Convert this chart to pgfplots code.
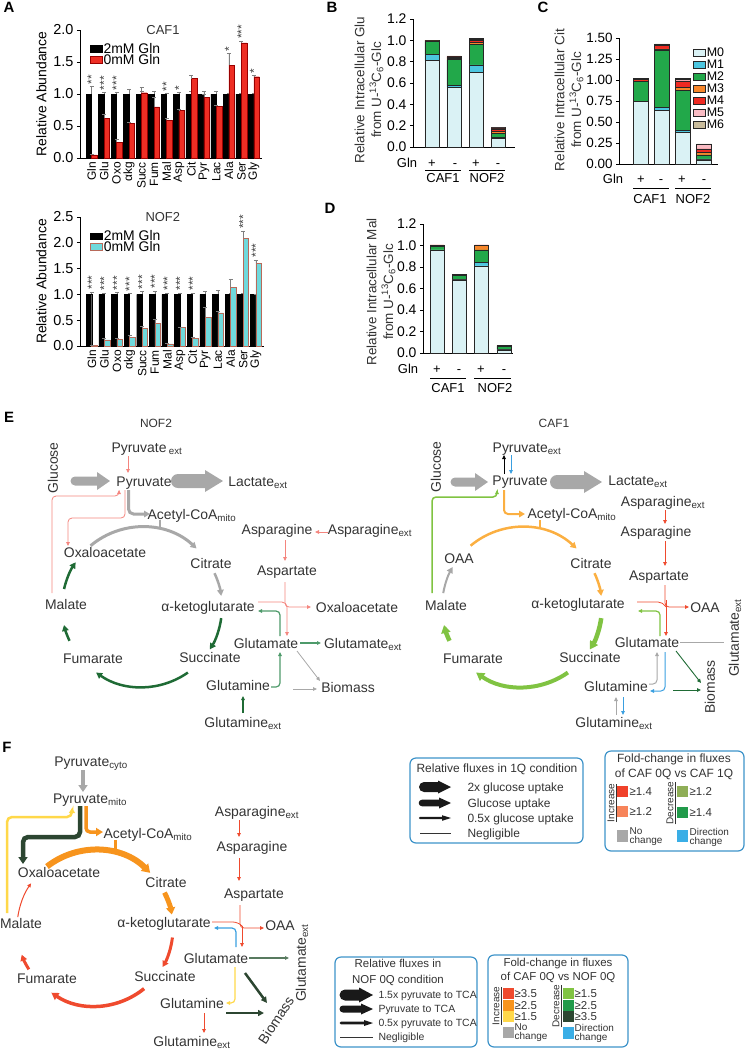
\documentclass[border=0pt]{standalone}
\usepackage{fontspec}
\setmainfont{Liberation Sans}
\usepackage{pgfplots}
\pgfplotsset{compat=1.18}
\usepackage{pgfplotstable}
\usetikzlibrary{arrows.meta}
\newcommand\fsz[2]{\fontsize{#1}{#2}\selectfont}
\newcommand\sub[1]{\textsubscript{#1}}
\definecolor{txt}{HTML}{333333}
\definecolor{cafred}{HTML}{EE2E24}
\definecolor{nofcy}{HTML}{6FD9DC}
\definecolor{nofedge}{HTML}{B86A5A}
\definecolor{mzero}{HTML}{DAF2F5}
\definecolor{mone}{HTML}{4CC6E0}
\definecolor{mtwo}{HTML}{22A84A}
\definecolor{mthree}{HTML}{F7862A}
\definecolor{mfour}{HTML}{EE2A22}
\definecolor{mfive}{HTML}{F9BCC4}
\definecolor{msix}{HTML}{C9BC9C}
\definecolor{gar}{HTML}{A8A8A8}
\definecolor{salm}{HTML}{F4857E}
\definecolor{dgreen}{HTML}{1F6B35}
\definecolor{mgreen}{HTML}{4E9A6A}
\definecolor{lorange}{HTML}{FBAF41}
\definecolor{lgreen}{HTML}{80C342}
\definecolor{fred}{HTML}{EF4A2E}
\definecolor{fblue}{HTML}{3A9FE0}
\definecolor{forange}{HTML}{F7941D}
\definecolor{fyellow}{HTML}{FFD84A}
\definecolor{fdkgreen}{HTML}{2C4631}
\definecolor{fgreen}{HTML}{219A4A}
\definecolor{fslate}{HTML}{587A5F}
\definecolor{olive}{HTML}{8FAE57}
\definecolor{salm2}{HTML}{F7845A}
\definecolor{boxred}{HTML}{F0412A}
\definecolor{boxblue}{HTML}{3D93C9}
\definecolor{sqblue}{HTML}{3AAEE6}

\newcommand\blockR[7]{%
 \fill[#7] (#1,{-#3+#4}) -- ({#2-#6},{-#3+#4}) -- ({#2-#6},{-#3+#5}) -- (#2,{-#3}) -- ({#2-#6},{-#3-#5}) -- ({#2-#6},{-#3-#4}) -- (#1,{-#3-#4}) arc[start angle=-90, end angle=-270, radius=#4] -- cycle;}
\newcommand\carc[6]{\draw[#6] ({#1+#3*cos(#4)},{-#2+#3*sin(#4)}) arc[start angle=#4, end angle=#5, radius=#3];}

\pgfplotstableread{
x k ke r re
0 1 0.12 0.05 0.01
1 1 0.03 0.62 0.07
2 1 0.03 0.25 0.05
3 1 0.08 0.54 0.02
4 1 0.05 1.02 0.08
5 1 0.05 0.80 0.15
6 1 0.02 0.59 0.03
7 1 0.03 0.74 0.03
8 1 0.05 1.24 0.05
9 1 0.04 0.95 0.05
10 1 0.05 0.81 0.02
11 1 0.02 1.45 0.18
12 1 0.02 1.80 0.03
13 1 0.01 1.27 0.02
}\cafA
\pgfplotstableread{
x y s
0 1.14 **
1 1.05 ***
2 1.05 ***
6 1.03 **
7 1.05 *
11 1.65 *
12 1.85 ***
13 1.31 *
}\cafS
\pgfplotstableread{
x k ke c ce
0 1 0.05 0.01 0.005
1 1 0.03 0.12 0.03
2 1 0.04 0.13 0.02
3 1 0.02 0.17 0.04
4 1 0.06 0.34 0.04
5 1 0.07 0.44 0.07
6 1 0.03 0.04 0.01
7 1 0.03 0.36 0.01
8 1 0.03 0.15 0.03
9 1 0.06 0.56 0.20
10 1 0.08 0.64 0.03
11 1 0.03 1.14 0.16
12 1 0.02 2.09 0.14
13 1 0.00 1.60 0.06
}\nofA
\pgfplotstableread{
x y s
0 1.08 ***
1 1.06 ***
2 1.07 ***
3 1.05 ***
4 1.09 ***
5 1.10 ***
6 1.06 ***
7 1.06 ***
8 1.06 ***
12 2.26 ***
13 1.70 ***
}\nofS
\pgfplotstableread{
x m0 m1 m2 m3 m4 m5 m6
0 0.81 0.06 0.12 0.005 0.005 0.0 0.0
1 0.56 0.02 0.24 0.01 0.015 0.005 0.005
2 0.70 0.07 0.19 0.02 0.02 0.01 0.005
3 0.08 0.01 0.04 0.015 0.025 0.01 0.005
}\Bd
\pgfplotstableread{
x m0 m1 m2 m3 m4 m5 m6
0 0.75 0.0 0.23 0.01 0.02 0.005 0.0
1 0.64 0.03 0.69 0.01 0.04 0.01 0.01
2 0.38 0.02 0.48 0.03 0.08 0.02 0.01
3 0.05 0.01 0.05 0.03 0.04 0.05 0.01
}\Cd
\pgfplotstableread{
x m0 m1 m2 m3 m4 m5 m6
0 0.96 0.0 0.03 0.01 0.005 0 0
1 0.68 0.005 0.04 0.005 0 0 0
2 0.81 0.03 0.12 0.04 0.005 0 0
3 0.03 0.005 0.03 0.005 0 0 0
}\Dd

\pgfplotsset{
 abar/.style={scale only axis, anchor=south west, clip=false,
  axis x line*=bottom, axis y line*=left, axis line style={line width=0.8bp, black},
  tick align=outside, major tick length=3bp, tick style={black, line width=0.8bp},
  xtick={0,...,13}, xticklabels={Gln,Glu,Oxo,αkg,Succ,Fum,Mal,Asp,Cit,Pyr,Lac,Ala,Ser,Gly},
  x tick style={draw=none}, xticklabel style={rotate=90, anchor=east, font=\fsz{12}{12}, inner sep=1bp},
  yticklabel style={font=\fsz{14.5}{14.5}, /pgf/number format/.cd, fixed, fixed zerofill, precision=1, assume math mode=true},
  ylabel={Relative Abundance}, ylabel style={font=\fsz{14}{14}},
  legend style={at={(0.055,0.905)}, anchor=north west, draw=none, fill=none, font=\fsz{14}{14}, row sep=-3bp, inner sep=0pt, nodes={inner sep=1bp}},
  legend image code/.code={\draw[#1] (0bp,-3bp) rectangle (12bp,3.5bp);}},
 stars/.style={draw=none, mark=none, nodes near coords, point meta=explicit symbolic, every node near coord/.append style={rotate=90, anchor=west, font=\fsz{12}{12}, inner sep=0.5bp, text=black!75}},
 stk/.style={scale only axis, anchor=south west, clip=false, ybar stacked, bar width=14bp, ymin=0,
  axis x line*=bottom, axis y line*=left, axis line style={line width=0.8bp, black},
  tick align=outside, major tick length=3bp, tick style={black, line width=0.8bp},
  xtick={0,1,2,3}, xticklabels={}, x tick style={draw=none},
  every axis plot/.append style={draw=black!85, line width=0.5bp}},
}
\tikzset{lab/.style={font=\fsz{14}{16}, text=txt, inner sep=0pt, anchor=base},
 ta/.style={-{Triangle[length=4bp,width=3.6bp]}},
 tb/.style={-{Triangle[length=6bp,width=6.5bp]}},
 tc/.style={-{Triangle[length=8bp,width=9bp]}}}

\begin{document}
\begin{tikzpicture}[x=1bp,y=1bp,font=\fsz{14}{16}]
\useasboundingbox (0,0) rectangle (745,-1050);
\coordinate (pA1) at (80,-158);
\coordinate (pA2) at (80,-346);
\coordinate (pB) at (413,-147);
\coordinate (pC) at (619,-164);
\coordinate (pD) at (423,-353);

% panel letters
\node[font=\bfseries\fsz{15}{16}, anchor=base] at (9,-12) {A};
\node[font=\bfseries\fsz{15}{16}, anchor=base] at (332,-12) {B};
\node[font=\bfseries\fsz{15}{16}, anchor=base] at (543,-12) {C};
\node[font=\bfseries\fsz{15}{16}, anchor=base] at (330,-213) {D};
\node[font=\bfseries\fsz{15}{16}, anchor=base] at (9,-422) {E};
\node[font=\bfseries\fsz{15}{16}, anchor=base] at (7,-752) {F};

% ---------- A: CAF1
\begin{axis}[abar, at={(pA1)}, width=182bp, height=128bp,
  xmin=-0.93, xmax=13.65, ymin=0, ymax=2, ytick={0,0.5,1,1.5,2}]
\addplot[ybar, bar width=5.5bp, bar shift=-2.75bp, fill=black, draw=black,
  error bars/.cd, y dir=plus, y explicit, error bar style={gray, line width=0.5bp}]
  table[x=x, y=k, y error=ke]{\cafA};
\addplot[ybar, bar width=5.5bp, bar shift=2.75bp, fill=cafred, draw=red!60!black, line width=0.4bp,
  error bars/.cd, y dir=plus, y explicit, error bar style={gray, line width=0.5bp}]
  table[x=x, y=r, y error=re]{\cafA};
\addplot[stars] table[x=x, y=y, meta=s]{\cafS};
\legend{2mM Gln, 0mM Gln}
\node[font=\fsz{13}{13}, text=txt] at (rel axis cs:0.456,1) {CAF1};
\end{axis}

% ---------- A: NOF2
\begin{axis}[abar, at={(pA2)}, width=184bp, height=129bp,
  xmin=-0.93, xmax=13.65, ymin=0, ymax=2.5, ytick={0,0.5,1,1.5,2,2.5}]
\addplot[ybar, bar width=5.5bp, bar shift=-2.75bp, fill=black, draw=black,
  error bars/.cd, y dir=plus, y explicit, error bar style={gray, line width=0.5bp}]
  table[x=x, y=k, y error=ke]{\nofA};
\addplot[ybar, bar width=5.5bp, bar shift=2.75bp, fill=nofcy, draw=nofedge, line width=0.5bp,
  error bars/.cd, y dir=plus, y explicit, error bar style={gray, line width=0.5bp}]
  table[x=x, y=c, y error=ce]{\nofA};
\addplot[stars] table[x=x, y=y, meta=s]{\nofS};
\legend{2mM Gln, 0mM Gln}
\node[font=\fsz{13}{13}, text=txt] at (rel axis cs:0.45,1) {NOF2};
\end{axis}

% ---------- B
\begin{axis}[stk, at={(pB)}, width=102bp, height=128bp,
  xmin=-0.86, xmax=3.77, ymax=1.2, ytick={0,0.2,...,1.2},
  yticklabel style={font=\fsz{14}{14}, /pgf/number format/.cd, fixed, fixed zerofill, precision=1, assume math mode=true}]
\addplot[fill=mzero] table[x=x,y=m0]{\Bd};
\addplot[fill=mone] table[x=x,y=m1]{\Bd};
\addplot[fill=mtwo] table[x=x,y=m2]{\Bd};
\addplot[fill=mthree] table[x=x,y=m3]{\Bd};
\addplot[fill=mfour] table[x=x,y=m4]{\Bd};
\addplot[fill=mfive] table[x=x,y=m5]{\Bd};
\addplot[fill=msix] table[x=x,y=m6]{\Bd};
\end{axis}
\node[rotate=90, align=center, font=\fsz{13.5}{17}, text=txt] at (369,-90) {Relative Intracellular Glu\\from U-\textsuperscript{13}C\textsubscript{6}-Glc};
\begin{scope}[font=\fsz{13}{13}]
\node[anchor=base] at (407,-167) {Gln};
\node[anchor=base] at (432,-167) {+};\node[anchor=base] at (455,-167) {-};
\node[anchor=base] at (476,-167) {+};\node[anchor=base] at (498,-167) {-};
\draw[line width=0.7bp] (425,-170) -- (461,-170); \draw[line width=0.7bp] (469,-170) -- (505,-170);
\node[anchor=base] at (443,-182) {CAF1}; \node[anchor=base] at (487,-182) {NOF2};
\end{scope}

% ---------- C
\begin{axis}[stk, at={(pC)}, width=99bp, height=126bp, bar width=15bp,
  xmin=-1.05, xmax=3.66, ymax=1.5, ytick={0,0.25,...,1.5},
  yticklabel style={font=\fsz{13.5}{13.5}, /pgf/number format/.cd, fixed, fixed zerofill, precision=2, assume math mode=true},
  legend style={at={(0.75,0.93)}, anchor=north west, draw=none, fill=none, font=\fsz{12.5}{12.5}, row sep=0.3bp, inner sep=0pt, nodes={inner sep=0.8bp}},
  legend image code/.code={\draw[#1] (0bp,-3.5bp) rectangle (12bp,3.5bp);}]
\addplot[fill=mzero] table[x=x,y=m0]{\Cd};
\addplot[fill=mone] table[x=x,y=m1]{\Cd};
\addplot[fill=mtwo] table[x=x,y=m2]{\Cd};
\addplot[fill=mthree] table[x=x,y=m3]{\Cd};
\addplot[fill=mfour] table[x=x,y=m4]{\Cd};
\addplot[fill=mfive] table[x=x,y=m5]{\Cd};
\addplot[fill=msix] table[x=x,y=m6]{\Cd};
\legend{M0,M1,M2,M3,M4,M5,M6}
\end{axis}
\node[rotate=90, align=center, font=\fsz{13.5}{17}, text=txt] at (569,-100) {Relative Intracellular Cit\\from U-\textsuperscript{13}C\textsubscript{6}-Glc};
\begin{scope}[font=\fsz{13}{13}]
\node[anchor=base] at (613,-183) {Gln};
\node[anchor=base] at (641,-183) {+};\node[anchor=base] at (661,-183) {-};
\node[anchor=base] at (682,-183) {+};\node[anchor=base] at (704,-183) {-};
\draw[line width=0.7bp] (633,-188) -- (669,-188); \draw[line width=0.7bp] (675,-188) -- (711,-188);
\node[anchor=base] at (650,-203) {CAF1}; \node[anchor=base] at (693,-203) {NOF2};
\end{scope}

% ---------- D
\begin{axis}[stk, at={(pD)}, width=90bp, height=129bp,
  xmin=-0.63, xmax=3.41, ymax=1.2, ytick={0,0.2,...,1.2},
  yticklabel style={font=\fsz{14}{14}, /pgf/number format/.cd, fixed, fixed zerofill, precision=1, assume math mode=true}]
\addplot[fill=mzero] table[x=x,y=m0]{\Dd};
\addplot[fill=mone] table[x=x,y=m1]{\Dd};
\addplot[fill=mtwo] table[x=x,y=m2]{\Dd};
\addplot[fill=mthree] table[x=x,y=m3]{\Dd};
\addplot[fill=mfour] table[x=x,y=m4]{\Dd};
\addplot[fill=mfive] table[x=x,y=m5]{\Dd};
\addplot[fill=msix] table[x=x,y=m6]{\Dd};
\end{axis}
\node[rotate=90, align=center, font=\fsz{13.5}{17}, text=txt] at (381,-292) {Relative Intracellular Mal\\from U-\textsuperscript{13}C\textsubscript{6}-Glc};
\begin{scope}[font=\fsz{13}{13}]
\node[anchor=base] at (408,-373) {Gln};
\node[anchor=base] at (437,-373) {+};\node[anchor=base] at (459,-373) {-};
\node[anchor=base] at (481,-373) {+};\node[anchor=base] at (504,-373) {-};
\draw[line width=0.7bp] (430,-378) -- (466,-378); \draw[line width=0.7bp] (474,-378) -- (511,-378);
\node[anchor=base] at (448,-392) {CAF1}; \node[anchor=base] at (495,-392) {NOF2};
\end{scope}

% ================= E left (NOF2)
\node[lab,font=\fsz{12}{12}] at (156,-427) {NOF2};
\node[lab] at (147,-452) {Pyruvate\,\sub{ext}};
\node[lab,rotate=90,anchor=center] at (53,-468) {Glucose};
\node[lab] at (144,-486) {Pyruvate};
\node[lab] at (258,-486) {Lactate\sub{ext}};
\node[lab] at (192,-519) {Acetyl-CoA\sub{mito}};
\node[lab] at (277,-534) {Asparagine};
\node[lab] at (370,-534) {Asparagine\sub{ext}};
\node[lab] at (105,-557) {Oxaloacetate};
\node[lab] at (211,-568) {Citrate};
\node[lab] at (287,-575) {Aspartate};
\node[lab] at (66,-609) {Malate};
\node[lab] at (208,-611) {α-ketoglutarate};
\node[lab] at (357,-612) {Oxaloacetate};
\node[lab] at (93,-663) {Fumarate};
\node[lab] at (210,-662) {Succinate};
\node[lab] at (266,-648) {Glutamate};
\node[lab] at (363,-648) {Glutamate\sub{ext}};
\node[lab] at (238,-690) {Glutamine};
\node[lab] at (243,-727) {Glutamine\sub{ext}};
\node[lab] at (348,-692) {Biomass};

\draw[salm, line width=0.8bp, ta] (128,-456) -- (128,-473);
\blockR{75}{110}{481}{4.5}{9}{13}{gar}
\blockR{178}{223}{481}{7}{11}{18}{gar}
\draw[gar, line width=3bp, rounded corners=5bp, tb] (128.5,-490) -- (128.5,-514) -- (150,-514);
\draw[salm, line width=0.8bp, rounded corners=4bp, ta] (125,-490) -- (125,-518) -- (68,-518) -- (68,-546);
\draw[salm, line width=0.8bp, rounded corners=4bp, ta] (52,-593) -- (52,-496) -- (119,-496) -- (119,-490);
\carc{142}{607}{80}{130}{47}{gar, line width=3bp, tb}
\draw[gar, line width=2bp] (160,-520) -- (160,-529);
\carc{142}{607}{80}{25}{8}{gar, line width=2.5bp, tb}
\carc{142}{607}{80}{-8}{-32}{dgreen, line width=2.5bp, tb}
\carc{142}{607}{80}{-55}{-125}{dgreen, line width=2.5bp, tb}
\carc{142}{607}{80}{-155}{-167}{dgreen, line width=2.5bp, tb}
\carc{142}{607}{80}{167}{146}{dgreen, line width=2.5bp, tb}
\draw[salm, line width=0.8bp, ta] (328,-532) -- (315,-532);
\draw[salm, line width=0.8bp, ta] (285,-540) -- (285,-561);
\draw[salm, line width=0.8bp, rounded corners=4bp, ta] (285,-582) -- (285,-607) -- (311,-607);
\draw[salm, line width=0.8bp, rounded corners=5bp, ta] (258,-602) -- (287,-602) -- (287,-636);
\draw[mgreen, line width=1.2bp, rounded corners=4bp, ta] (280,-636) -- (280,-611) -- (258,-611);
\draw[mgreen, line width=1.2bp, rounded corners=4bp, ta] (271,-687) -- (280,-687) -- (280,-652);
\draw[mgreen, line width=1.2bp, ta] (300,-643) -- (321,-643);
\draw[gar, line width=0.8bp, ta] (297,-651) -- (320,-681);
\draw[gar, line width=0.8bp, ta] (293,-689) -- (317,-689);
\draw[dgreen, line width=1.5bp, ta] (243,-713) -- (243,-696);

% ================= E right (CAF1)
\node[lab,font=\fsz{12}{12}] at (554,-427) {CAF1};
\node[lab] at (527,-452) {Pyruvate\sub{ext}};
\node[lab,rotate=90,anchor=center] at (436,-467) {Glucose};
\node[lab] at (520,-485) {Pyruvate};
\node[lab] at (638,-485) {Lactate\sub{ext}};
\node[lab] at (663,-506) {Asparagine\sub{ext}};
\node[lab] at (572,-518) {Acetyl-CoA\sub{mito}};
\node[lab] at (656,-536) {Asparagine};
\node[lab] at (459,-563) {OAA};
\node[lab] at (591,-568) {Citrate};
\node[lab] at (659,-580) {Aspartate};
\node[lab] at (446,-610) {Malate};
\node[lab] at (578,-608) {α-ketoglutarate};
\node[lab] at (705,-612) {OAA};
\node[lab,rotate=90,anchor=center] at (735,-638) {Glutamate\sub{ext}};
\node[lab] at (473,-663) {Fumarate};
\node[lab] at (590,-662) {Succinate};
\node[lab] at (647,-647) {Glutamate};
\node[lab] at (616,-691) {Glutamine};
\node[lab] at (614,-727) {Glutamine\sub{ext}};
\node[lab,rotate=90,anchor=center] at (710,-687) {Biomass};

\blockR{455}{488}{482}{4.5}{9}{13}{gar}
\blockR{557}{602}{482}{7}{11}{18}{gar}
\draw[black, line width=0.8bp, ta] (504,-474) -- (504,-455);
\draw[fblue, line width=0.8bp, ta] (511,-455) -- (511,-474);
\draw[lorange, line width=2bp, rounded corners=4bp, tb] (504,-490) -- (504,-514) -- (525,-514);
\draw[lgreen, line width=1.5bp, rounded corners=4bp, ta] (432,-593) -- (432,-497) -- (497,-497) -- (497,-490);
\carc{522}{607}{80}{130}{47}{lorange, line width=2.5bp, tb}
\draw[lorange, line width=2bp] (540,-520) -- (540,-529);
\carc{522}{607}{80}{25}{8}{lorange, line width=2.5bp, tb}
\carc{522}{607}{80}{-8}{-32}{lgreen, line width=4.5bp, tc}
\carc{522}{607}{80}{-55}{-125}{lgreen, line width=4bp, tc}
\carc{522}{607}{80}{-155}{-167}{lgreen, line width=4.5bp, tc}
\carc{522}{607}{80}{170}{150}{gar, line width=2bp, tb}
\draw[fred, line width=0.8bp, ta] (665,-510) -- (665,-524);
\draw[fred, line width=0.8bp, ta] (665,-541) -- (665,-566);
\draw[fred, line width=0.8bp, rounded corners=4bp, ta] (665,-585) -- (665,-607) -- (689,-607);
\draw[fred, line width=0.8bp, ta] (666,-600) -- (666,-636);
\draw[fred, line width=0.8bp, rounded corners=5bp] (637,-602) -- (663,-602) -- (666,-607);
\draw[lgreen, line width=1.2bp, rounded corners=4bp, ta] (660,-636) -- (660,-611) -- (638,-611);
\draw[gar, line width=0.8bp] (680,-642) -- (724,-642);
\draw[dgreen, line width=0.9bp, ta] (676,-651) -- (701,-683);
\draw[dgreen, line width=0.9bp, ta] (673,-690) -- (701,-690);
\draw[gar, line width=1bp, rounded corners=4bp, ta] (649,-684) -- (657,-684) -- (657,-652);
\draw[fblue, line width=1bp, rounded corners=4bp, ta] (665,-652) -- (665,-691) -- (650,-691);
\draw[gar, line width=1bp, ta] (616,-715) -- (616,-697);
\draw[fblue, line width=1bp, ta] (623,-697) -- (623,-715);

% ---- E legends
\draw[boxblue, line width=1.2bp, rounded corners=6bp] (410,-758) rectangle (583,-843);
\node[anchor=base, font=\fsz{12}{12}, text=txt] at (497,-772) {Relative fluxes in 1Q condition};
\blockR{424}{451}{787}{5}{6.5}{13}{black!90}
\blockR{422}{451}{803}{3.3}{5.5}{12}{black!90}
\blockR{420}{451}{818}{1.2}{2.8}{9}{black!90}
\draw[black!80, line width=0.8bp] (420,-833) -- (451,-833);
\begin{scope}[every node/.style={anchor=base west, font=\fsz{12}{12}, text=txt}]
\node at (464,-791.5) {2x glucose uptake};
\node at (464,-807.5) {Glucose uptake};
\node at (464,-822.5) {0.5x glucose uptake};
\node at (464,-837.5) {Negligible};
\end{scope}
\draw[boxblue, line width=1.2bp, rounded corners=6bp] (605,-751) rectangle (744,-851);
\node[anchor=base, font=\fsz{12}{12}, text=txt] at (674,-762) {Fold-change in fluxes};
\node[anchor=base, font=\fsz{12}{12}, text=txt] at (674,-777) {of CAF 0Q vs CAF 1Q};
\node[rotate=90, font=\fsz{10}{10}, text=txt, inner sep=0pt] at (612,-803) {\underline{Increase}};
\node[rotate=90, font=\fsz{10}{10}, text=txt, inner sep=0pt] at (671,-803) {\underline{Decrease}};
\fill[boxred] (617,-786) rectangle (628,-797);
\fill[salm2] (617,-806) rectangle (628,-817);
\fill[olive] (677,-786) rectangle (688,-797);
\fill[fgreen] (677,-807) rectangle (688,-818);
\fill[gar] (617,-830) rectangle (628,-842);
\fill[sqblue] (677,-830) rectangle (688,-842);
\begin{scope}[every node/.style={anchor=west, font=\fsz{11.5}{11.5}, text=txt, inner sep=0.5bp}]
\node at (629,-791.5) {≥1.4};
\node at (629,-811.5) {≥1.2};
\node at (689,-791.5) {≥1.2};
\node at (689,-812.5) {≥1.4};
\end{scope}
\node[anchor=west, align=left, font=\fsz{10}{9}, text=txt, inner sep=0.5bp] at (629,-837) {No\\change};
\node[anchor=west, align=left, font=\fsz{10}{9}, text=txt, inner sep=0.5bp] at (689,-837) {Direction\\change};

% ================= F
\node[lab] at (91,-766) {Pyruvate\sub{cyto}};
\node[lab] at (90,-803) {Pyruvate\sub{mito}};
\node[lab] at (148,-838) {Acetyl-CoA\sub{mito}};
\node[lab] at (257,-816) {Asparagine\sub{ext}};
\node[lab] at (252,-851) {Asparagine};
\node[lab] at (59,-877) {Oxaloacetate};
\node[lab] at (166,-887) {Citrate};
\node[lab] at (254,-898) {Aspartate};
\node[lab] at (21,-928) {Malate};
\node[lab] at (164,-927) {α-ketoglutarate};
\node[lab] at (280,-930) {OAA};
\node[lab] at (216,-963) {Glutamate};
\node[lab,rotate=90,anchor=center] at (302,-963) {Glutamate\sub{ext}};
\node[lab] at (47,-983) {Fumarate};
\node[lab] at (165,-981) {Succinate};
\node[lab] at (192,-1008) {Glutamine};
\node[lab,rotate=57,anchor=center] at (276,-1020) {Biomass};
\node[lab] at (192,-1046) {Glutamine\sub{ext}};

\draw[gar, line width=4bp, -{Triangle[length=7bp,width=9bp]}] (83,-770) -- (83,-792);
\draw[fyellow, line width=2.5bp, rounded corners=5bp, -{Triangle[length=5bp,width=6bp]}] (7,-913) -- (7,-817) -- (72,-817) -- (72,-808);
\draw[fdkgreen, line width=4.5bp, rounded corners=5bp, -{Triangle[length=7bp,width=9bp]}] (80,-806) -- (80,-837) -- (23,-837) -- (23,-864);
\draw[forange, line width=3.5bp, rounded corners=4bp, -{Triangle[length=7bp,width=8bp]}] (86,-806) -- (86,-832) -- (103,-832);
\carc{95}{928}{78}{128}{45}{forange, line width=6bp, -{Triangle[length=8bp,width=10bp]}}
\draw[forange, line width=3bp] (115,-840) -- (115,-851);
\carc{95}{928}{78}{27}{10}{forange, line width=5bp, -{Triangle[length=7bp,width=9bp]}}
\carc{95}{928}{78}{-7}{-30}{fred, line width=3bp, tb}
\carc{95}{928}{78}{-51}{-124}{fred, line width=3.5bp, -{Triangle[length=7bp,width=8bp]}}
\carc{95}{928}{78}{-148}{-160}{fred, line width=3bp, tb}
\carc{95}{928}{78}{172}{145}{fred, line width=1bp, ta}
\draw[fred, line width=0.8bp, ta] (239,-820) -- (239,-837);
\draw[fred, line width=0.8bp, ta] (239,-858) -- (239,-881);
\draw[fred, line width=0.8bp, rounded corners=4bp, ta] (240,-905) -- (240,-928) -- (264,-928);
\draw[fred, line width=0.8bp, ta] (242,-926) -- (242,-947);
\draw[fred, line width=0.8bp, rounded corners=5bp] (212,-922) -- (238,-922) -- (242,-926);
\draw[fblue, line width=1.2bp, rounded corners=4bp, ta] (236,-947) -- (236,-928) -- (214,-928);
\draw[fslate, line width=1.5bp, ta] (249,-958) -- (289,-958);
\draw[fyellow, line width=1.2bp, rounded corners=4bp, ta] (235,-967) -- (235,-1003) -- (226,-1003);
\draw[fdkgreen, line width=2.5bp, -{Triangle[length=6bp,width=6bp]}] (245,-973) -- (267,-1003);
\draw[fdkgreen, line width=2.5bp, -{Triangle[length=6bp,width=6bp]}] (226,-1013) -- (264,-1013);
\draw[fred, line width=0.8bp, ta] (204,-1013) -- (204,-1033);

% ---- F legends
\draw[boxblue, line width=1.2bp, rounded corners=6bp] (335,-957) rectangle (477,-1047);
\node[anchor=base, font=\fsz{11.5}{11.5}, text=txt] at (398,-967) {Relative fluxes in};
\node[anchor=base, font=\fsz{11.5}{11.5}, text=txt] at (398,-983) {NOF 0Q condition};
\blockR{345}{373}{995}{5.5}{7.5}{14}{black!90}
\blockR{343}{373}{1009}{3.5}{5.5}{12}{black!90}
\blockR{341}{373}{1023}{1.3}{3}{9}{black!90}
\draw[black!80, line width=0.8bp] (340,-1037) -- (373,-1037);
\begin{scope}[every node/.style={anchor=base west, font=\fsz{10.5}{10.5}, text=txt}]
\node at (375,-998.5) {1.5x pyruvate to TCA};
\node at (375,-1012.5) {Pyruvate to TCA};
\node at (375,-1026.5) {0.5x pyruvate to TCA};
\node at (375,-1040.5) {Negligible};
\end{scope}
\draw[boxblue, line width=1.2bp, rounded corners=6bp] (488,-955) rectangle (628,-1047);
\node[anchor=base, font=\fsz{11.5}{11.5}, text=txt] at (558,-966) {Fold-change in fluxes};
\node[anchor=base, font=\fsz{11.5}{11.5}, text=txt] at (558,-980) {of CAF 0Q vs NOF 0Q};
\node[rotate=90, font=\fsz{10}{10}, text=txt, inner sep=0pt] at (497,-1006) {\underline{Increase}};
\node[rotate=90, font=\fsz{10}{10}, text=txt, inner sep=0pt] at (557,-1006) {\underline{Decrease}};
\fill[fred] (503,-988) rectangle (514,-999);
\fill[forange] (503,-1000) rectangle (514,-1011);
\fill[fyellow] (503,-1011) rectangle (514,-1022);
\fill[lgreen] (563,-988) rectangle (574,-999);
\fill[fgreen] (563,-1000) rectangle (574,-1011);
\fill[fdkgreen] (563,-1011) rectangle (574,-1022);
\fill[gar] (503,-1027) rectangle (514,-1038);
\fill[sqblue] (563,-1027) rectangle (574,-1039);
\begin{scope}[every node/.style={anchor=west, font=\fsz{11.5}{11.5}, text=txt, inner sep=0.5bp}]
\node at (514,-993.5) {≥3.5};
\node at (514,-1005.5) {≥2.5};
\node at (514,-1016.5) {≥1.5};
\node at (574,-993.5) {≥1.5};
\node at (574,-1005.5) {≥2.5};
\node at (574,-1016.5) {≥3.5};
\end{scope}
\node[anchor=west, align=left, font=\fsz{10}{9}, text=txt, inner sep=0.5bp] at (514,-1033) {No\\change};
\node[anchor=west, align=left, font=\fsz{10}{9}, text=txt, inner sep=0.5bp] at (574,-1033) {Direction\\change};
\end{tikzpicture}
\end{document}
